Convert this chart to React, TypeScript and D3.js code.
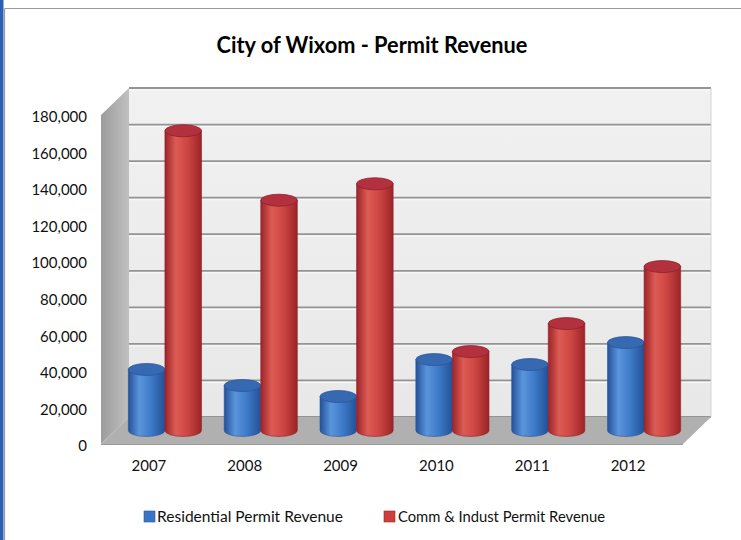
import React from 'react';
import * as d3 from 'd3';

const years = ['2007', '2008', '2009', '2010', '2011', '2012'];
const seriesNames = ['Residential Permit Revenue', 'Comm & Indust Permit Revenue'];
const residential = [33400, 24600, 18600, 38800, 36100, 48100];
const commercial = [164000, 126000, 135000, 43200, 58500, 89700];
const yTicks = [0, 20000, 40000, 60000, 80000, 100000, 120000, 140000, 160000, 180000];

const W = 741;
const H = 540;
// front plane of the 3D box, and the depth shift to the back wall
const front = { left: 101, right: 683, top: 115, bottom: 444 };
const depth = { dx: 28, dy: -27 };
const FONT = 'Lato, "Open Sans", sans-serif';

const palette = {
  blue: { dark: '#24519a', mid: '#3f7cc9', light: '#5a95dc', top: '#3768b2', rim: '#2a5597' },
  red: { dark: '#9c2428', mid: '#cf4743', light: '#dd5b55', top: '#b3303f', rim: '#8e1f2b' },
};

const App: React.FC = () => {
  const yFront = d3.scaleLinear().domain([0, 180000]).range([front.bottom, front.top]);
  // bars stand half way into the box
  const yMid = (v: number) => yFront(v) + depth.dy / 2;

  const x = d3.scaleBand<string>()
    .domain(years)
    .range([front.left + 2, 678]);

  const inner = d3.scaleBand<string>()
    .domain(seriesNames)
    .range([0, x.bandwidth()])
    .paddingOuter(0.31);

  const back = {
    left: front.left + depth.dx,
    right: front.right + depth.dx,
    top: front.top + depth.dy,
    bottom: front.bottom + depth.dy,
  };

  const cyl = (x0: number, w: number, v: number, key: string, col: typeof palette.blue) => {
    const rx = w / 2;
    const ry = 6;
    const yt = yMid(v);
    const yb = yMid(0);
    const body = `M${x0},${yt} L${x0},${yb} A${rx},${ry} 0 0 0 ${x0 + w},${yb} L${x0 + w},${yt} Z`;
    const id = col === palette.blue ? 'gBlue' : 'gRed';
    return (
      <g key={key}>
        <path d={body} fill={`url(#${id})`} stroke={col.rim} strokeWidth={0.6} />
        <ellipse cx={x0 + rx} cy={yt} rx={rx} ry={ry} fill={col.top} stroke={col.rim} strokeWidth={0.8} />
      </g>
    );
  };

  const fmt = d3.format(',');

  return (
    <svg width={W} height={H} style={{ position: 'absolute', left: 0, top: 0, background: '#fff' }}>
      <defs>
        <linearGradient id="gBlue" x1="0" x2="1" y1="0" y2="0">
          <stop offset="0" stopColor={palette.blue.dark} />
          <stop offset="0.3" stopColor={palette.blue.light} />
          <stop offset="0.6" stopColor={palette.blue.mid} />
          <stop offset="1" stopColor={palette.blue.dark} />
        </linearGradient>
        <linearGradient id="gRed" x1="0" x2="1" y1="0" y2="0">
          <stop offset="0" stopColor={palette.red.dark} />
          <stop offset="0.3" stopColor={palette.red.light} />
          <stop offset="0.6" stopColor={palette.red.mid} />
          <stop offset="1" stopColor={palette.red.dark} />
        </linearGradient>
        <linearGradient id="gWall" x1="0" x2="0" y1="0" y2="1">
          <stop offset="0" stopColor="#f1f1f1" />
          <stop offset="1" stopColor="#e8e8e8" />
        </linearGradient>
        <linearGradient id="gSide" x1="0" x2="1" y1="0" y2="0">
          <stop offset="0" stopColor="#9c9c9c" />
          <stop offset="1" stopColor="#c0c0c0" />
        </linearGradient>
      </defs>

      {/* frame */}
      <rect x={0} y={0} width={3.5} height={H} fill="#2b5eb4" />
      <line x1={4.5} y1={8.5} x2={W} y2={8.5} stroke="#9a9a9a" strokeWidth={1.2} />
      <line x1={4.5} y1={8.5} x2={4.5} y2={H} stroke="#9a9a9a" strokeWidth={1.2} />

      <text x={372} y={53} textAnchor="middle" fontFamily={FONT} fontWeight={700} fontSize={22}
        fill="#000" textLength={311} lengthAdjust="spacingAndGlyphs">
        City of Wixom - Permit Revenue
      </text>

      {/* back wall with gridlines */}
      <rect x={back.left} y={back.top} width={back.right - back.left} height={back.bottom - back.top} fill="url(#gWall)" />
      {yTicks.map(t => (
        <g key={t}>
          <line x1={back.left} x2={back.right} y1={yFront(t) + depth.dy} y2={yFront(t) + depth.dy}
            stroke="#949494" strokeWidth={1.8} />
          <line x1={back.left} x2={back.right} y1={yFront(t) + depth.dy + 2} y2={yFront(t) + depth.dy + 2}
            stroke="#fafafa" strokeWidth={1} />
        </g>
      ))}
      <line x1={back.right} x2={back.right} y1={back.top} y2={back.bottom} stroke="#d4d4d4" strokeWidth={1} />

      {/* side wall */}
      <polygon
        points={`${front.left},${front.top} ${back.left},${back.top} ${back.left},${back.bottom} ${front.left},${front.bottom}`}
        fill="url(#gSide)" />

      {/* floor */}
      <polygon
        points={`${front.left},${front.bottom} ${back.left},${back.bottom} ${back.right},${back.bottom} ${front.right},${front.bottom}`}
        fill="#b0b0b0" />
      <line x1={front.left} x2={front.right} y1={front.bottom + 0.5} y2={front.bottom + 0.5} stroke="#999" strokeWidth={1} />

      {/* cylinders */}
      {years.map((yr, i) => {
        const gx = x(yr)! + depth.dx / 2;
        const w = inner.bandwidth();
        return (
          <g key={yr}>
            {cyl(gx + inner(seriesNames[0])!, w, residential[i], 'r', palette.blue)}
            {cyl(gx + inner(seriesNames[1])!, w, commercial[i], 'c', palette.red)}
          </g>
        );
      })}

      {/* value axis labels */}
      {yTicks.map(t => (
        <text key={t} x={87} y={yFront(t) + 2} dy="0.35em" textAnchor="end" fontFamily={FONT}
          fontSize={15} fill="#111">
          {fmt(t)}
        </text>
      ))}

      {/* category labels */}
      {years.map(yr => (
        <text key={yr} x={x(yr)! + x.bandwidth() / 2 - 2} y={471} textAnchor="middle" fontFamily={FONT}
          fontSize={15} fill="#111">
          {yr}
        </text>
      ))}

      {/* legend */}
      <rect x={144} y={511} width={11} height={11} fill="#3a74c4" stroke="#2a5597" strokeWidth={0.6} />
      <text x={157} y={522} fontFamily={FONT} fontSize={14.5} fill="#111" textLength={186} lengthAdjust="spacingAndGlyphs">
        {seriesNames[0]}
      </text>
      <rect x={384} y={511} width={11} height={11} fill="#cc3f3c" stroke="#9c2428" strokeWidth={0.6} />
      <text x={398} y={522} fontFamily={FONT} fontSize={14.5} fill="#111" textLength={207} lengthAdjust="spacingAndGlyphs">
        {seriesNames[1]}
      </text>
    </svg>
  );
};

export default App;
